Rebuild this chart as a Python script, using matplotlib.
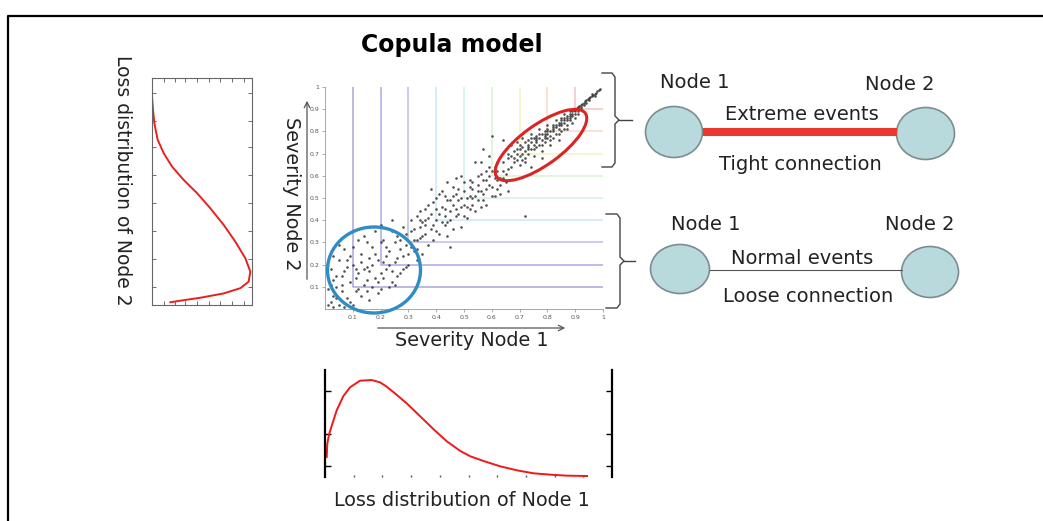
import matplotlib
matplotlib.use('Agg')
import matplotlib.pyplot as plt
from matplotlib.patches import Ellipse

plt.rcParams['font.family'] = ['DejaVu Sans']

# (severity node 1, severity node 2) pairs
copula_points = [
    # lower left, loose cloud
    (0.02, 0.03), (0.03, 0.06), (0.05, 0.02), (0.04, 0.10), (0.06, 0.15), (0.08, 0.05),
    (0.09, 0.12), (0.10, 0.20), (0.11, 0.08), (0.12, 0.16), (0.13, 0.25), (0.14, 0.11),
    (0.15, 0.19), (0.16, 0.04), (0.17, 0.28), (0.18, 0.14), (0.19, 0.22), (0.20, 0.09),
    (0.21, 0.31), (0.22, 0.18), (0.23, 0.26), (0.24, 0.12), (0.25, 0.21), (0.26, 0.33),
    (0.27, 0.16), (0.28, 0.24), (0.29, 0.29), (0.30, 0.20), (0.31, 0.35), (0.32, 0.26),
    (0.02, 0.18), (0.03, 0.13), (0.05, 0.22), (0.07, 0.27), (0.08, 0.19), (0.10, 0.02),
    (0.12, 0.31), (0.13, 0.06), (0.15, 0.13), (0.16, 0.23), (0.18, 0.35), (0.19, 0.07),
    (0.20, 0.16), (0.22, 0.24), (0.23, 0.10), (0.25, 0.30), (0.26, 0.15), (0.28, 0.37),
    (0.29, 0.19), (0.31, 0.28), (0.33, 0.22), (0.34, 0.32), (0.06, 0.08), (0.09, 0.24),
    (0.11, 0.14), (0.14, 0.18), (0.17, 0.10), (0.21, 0.21), (0.24, 0.17), (0.27, 0.27),
    (0.04, 0.05), (0.07, 0.01), (0.01, 0.09), (0.35, 0.25), (0.36, 0.38), (0.37, 0.29),
    (0.24, 0.40), (0.20, 0.38), (0.15, 0.30),
    (0.03, 0.24), (0.05, 0.29), (0.06, 0.11), (0.08, 0.22), (0.09, 0.03), (0.10, 0.28),
    (0.11, 0.18), (0.12, 0.09), (0.13, 0.21), (0.14, 0.33), (0.15, 0.08), (0.16, 0.17),
    (0.17, 0.20), (0.18, 0.25), (0.19, 0.12), (0.20, 0.30), (0.21, 0.14), (0.22, 0.28),
    (0.23, 0.20), (0.24, 0.35), (0.25, 0.11), (0.26, 0.23), (0.27, 0.31), (0.28, 0.18),
    (0.29, 0.34), (0.30, 0.25), (0.32, 0.31), (0.33, 0.27), (0.34, 0.40), (0.07, 0.17),
    (0.04, 0.15), (0.02, 0.11), (0.01, 0.02), (0.03, 0.01),
    # middle band
    (0.33, 0.42), (0.35, 0.33), (0.36, 0.45), (0.38, 0.36), (0.39, 0.48), (0.40, 0.40),
    (0.41, 0.34), (0.42, 0.46), (0.43, 0.51), (0.44, 0.39), (0.45, 0.44), (0.46, 0.55),
    (0.47, 0.42), (0.48, 0.49), (0.49, 0.37), (0.50, 0.53), (0.51, 0.46), (0.52, 0.58),
    (0.53, 0.50), (0.54, 0.44), (0.55, 0.56), (0.56, 0.61), (0.57, 0.52), (0.58, 0.47),
    (0.59, 0.60), (0.60, 0.55), (0.61, 0.64), (0.62, 0.58), (0.63, 0.52), (0.64, 0.62),
    (0.65, 0.57), (0.37, 0.41), (0.40, 0.45), (0.43, 0.38), (0.45, 0.49), (0.47, 0.52),
    (0.48, 0.43), (0.50, 0.47), (0.52, 0.51), (0.53, 0.57), (0.55, 0.49), (0.57, 0.58),
    (0.58, 0.54), (0.60, 0.62), (0.62, 0.66), (0.63, 0.59), (0.34, 0.37), (0.39, 0.31),
    (0.44, 0.33), (0.49, 0.60), (0.54, 0.66), (0.59, 0.69), (0.41, 0.52), (0.46, 0.36),
    (0.51, 0.41), (0.56, 0.46), (0.61, 0.51), (0.66, 0.53), (0.72, 0.42), (0.45, 0.28),
    (0.57, 0.72), (0.44, 0.57), (0.38, 0.54),
    (0.31, 0.40), (0.32, 0.36), (0.33, 0.31), (0.34, 0.44), (0.35, 0.39), (0.36, 0.34),
    (0.37, 0.47), (0.38, 0.43), (0.39, 0.38), (0.40, 0.50), (0.41, 0.43), (0.42, 0.39),
    (0.42, 0.53), (0.43, 0.45), (0.44, 0.49), (0.45, 0.40), (0.46, 0.47), (0.47, 0.45),
    (0.48, 0.54), (0.49, 0.46), (0.50, 0.42), (0.50, 0.57), (0.51, 0.50), (0.52, 0.45),
    (0.53, 0.54), (0.54, 0.51), (0.55, 0.60), (0.56, 0.53), (0.57, 0.49), (0.58, 0.62),
    (0.59, 0.56), (0.60, 0.51), (0.61, 0.59), (0.62, 0.62), (0.63, 0.56), (0.64, 0.66),
    (0.65, 0.61), (0.40, 0.35), (0.43, 0.42), (0.46, 0.51), (0.49, 0.50), (0.52, 0.55),
    (0.55, 0.53), (0.58, 0.58), (0.61, 0.61), (0.64, 0.59), (0.36, 0.40), (0.47, 0.59),
    (0.53, 0.47), (0.59, 0.64), (0.62, 0.54), (0.56, 0.66),
    # upper right, tight band
    (0.66, 0.68), (0.67, 0.64), (0.68, 0.71), (0.69, 0.67), (0.70, 0.74), (0.71, 0.70),
    (0.72, 0.66), (0.73, 0.76), (0.74, 0.72), (0.75, 0.69), (0.76, 0.78), (0.77, 0.74),
    (0.78, 0.71), (0.79, 0.80), (0.80, 0.77), (0.81, 0.74), (0.82, 0.82), (0.83, 0.79),
    (0.84, 0.76), (0.85, 0.84), (0.86, 0.81), (0.87, 0.85), (0.88, 0.87), (0.89, 0.84),
    (0.90, 0.89), (0.91, 0.88), (0.92, 0.91), (0.93, 0.92), (0.67, 0.74), (0.69, 0.72),
    (0.70, 0.65), (0.72, 0.75), (0.73, 0.70), (0.75, 0.77), (0.76, 0.73), (0.78, 0.79),
    (0.79, 0.75), (0.81, 0.80), (0.82, 0.77), (0.84, 0.83), (0.85, 0.80), (0.86, 0.86),
    (0.87, 0.83), (0.88, 0.85), (0.89, 0.88), (0.90, 0.86), (0.91, 0.90), (0.68, 0.66),
    (0.71, 0.77), (0.74, 0.79), (0.77, 0.81), (0.80, 0.83), (0.83, 0.85), (0.86, 0.88),
    (0.65, 0.72), (0.66, 0.63), (0.70, 0.69), (0.73, 0.73), (0.76, 0.76), (0.79, 0.78),
    (0.82, 0.80), (0.85, 0.86), (0.88, 0.89), (0.64, 0.76), (0.60, 0.78), (0.78, 0.68),
    (0.74, 0.64),
    (0.66, 0.70), (0.67, 0.69), (0.68, 0.68), (0.69, 0.70), (0.70, 0.72), (0.71, 0.73),
    (0.72, 0.71), (0.73, 0.74), (0.74, 0.75), (0.75, 0.74), (0.76, 0.75), (0.77, 0.77),
    (0.78, 0.76), (0.79, 0.77), (0.80, 0.80), (0.81, 0.78), (0.82, 0.81), (0.83, 0.82),
    (0.84, 0.81), (0.85, 0.83), (0.86, 0.84), (0.87, 0.87), (0.88, 0.86), (0.89, 0.87),
    (0.90, 0.88), (0.91, 0.89), (0.92, 0.90), (0.69, 0.75), (0.72, 0.68), (0.75, 0.72),
    (0.78, 0.74), (0.81, 0.76), (0.84, 0.79), (0.87, 0.81), (0.71, 0.67), (0.74, 0.77),
    (0.77, 0.79), (0.80, 0.79), (0.83, 0.83), (0.86, 0.85), (0.89, 0.89), (0.90, 0.90),
    (0.91, 0.91), (0.88, 0.88), (0.87, 0.86), (0.85, 0.85), (0.84, 0.84), (0.82, 0.83),
    (0.80, 0.81), (0.79, 0.79), (0.76, 0.77), (0.73, 0.72),
    # tail along the diagonal
    (0.93, 0.93), (0.94, 0.94), (0.945, 0.945), (0.95, 0.95), (0.955, 0.955), (0.96, 0.96),
    (0.965, 0.965), (0.97, 0.97), (0.975, 0.975), (0.98, 0.98), (0.985, 0.985), (0.99, 0.99),
    (0.92, 0.92), (0.94, 0.93), (0.95, 0.94), (0.96, 0.97), (0.97, 0.96), (0.935, 0.935),
    (0.925, 0.925), (0.915, 0.915), (0.905, 0.905), (0.895, 0.895),
]
sev_node1 = [p[0] for p in copula_points]
sev_node2 = [p[1] for p in copula_points]

# contour levels of the copula and their colours
levels = [0.1, 0.2, 0.3, 0.4, 0.5, 0.6, 0.7, 0.8, 0.9]
level_colors = ['#8c8cd0', '#8e8ee0', '#a8a8e2', '#b8def0', '#bfece6',
                '#c8f0c4', '#f0efb0', '#f5cdb8', '#f2b0b0']
tick_labels = ['0.1', '0.2', '0.3', '0.4', '0.5', '0.6', '0.7', '0.8', '0.9', '1']

# marginal of node 1 (severity, density)
node1_sev = [0.006, 0.008, 0.015, 0.026, 0.041, 0.064, 0.087, 0.122, 0.163, 0.192, 0.215,
             0.244, 0.285, 0.331, 0.378, 0.424, 0.471, 0.506, 0.552, 0.610, 0.669, 0.727,
             0.785, 0.843, 0.913]
node1_dens = [0.60, 1.00, 1.30, 1.60, 2.00, 2.42, 2.68, 2.88, 2.90, 2.83, 2.70,
              2.50, 2.20, 1.82, 1.43, 1.07, 0.78, 0.62, 0.48, 0.32, 0.20, 0.11,
              0.07, 0.04, 0.03]

# marginal of node 2 (severity, density), drawn sideways
node2_sev = [0.919, 0.860, 0.801, 0.728, 0.669, 0.610, 0.551, 0.493, 0.426, 0.353,
             0.279, 0.206, 0.147, 0.103, 0.074, 0.051, 0.032, 0.019, 0.012]
node2_dens = [0.00, 0.03, 0.07, 0.17, 0.35, 0.60, 0.95, 1.35, 1.75, 2.15,
              2.50, 2.80, 2.95, 2.90, 2.65, 2.15, 1.45, 0.85, 0.55]

W, H = 1043, 521
fig = plt.figure(figsize=(W / 100, H / 100), dpi=100)


def px_axes(x0, y0, x1, y1):
    return fig.add_axes([x0 / W, 1 - y1 / H, (x1 - x0) / W, (y1 - y0) / H])


# scatter with copula contours
ax = px_axes(325, 87, 603, 309)
for c, col in zip(levels, level_colors):
    ax.plot([c, c, 1], [1, c, c], color=col, lw=1.1, alpha=0.75, zorder=1)
ax.scatter(sev_node1, sev_node2, s=3.5, color='#333333', alpha=0.85, lw=0, zorder=2)
ax.set_xlim(0, 1)
ax.set_ylim(0, 1)
ax.set_xticks(levels + [1])
ax.set_yticks(levels + [1])
ax.set_xticklabels(tick_labels)
ax.set_yticklabels(tick_labels)
ax.tick_params(length=2, width=0.5, labelsize=4.5, labelcolor='#555', color='#888', pad=2)
for s in ['top', 'right']:
    ax.spines[s].set_visible(False)
for s in ['left', 'bottom']:
    ax.spines[s].set_color('#999')
    ax.spines[s].set_linewidth(0.6)

# marginal of node 2
axl = px_axes(152, 78, 252, 305)
axl.plot(node2_dens, node2_sev, color='#e82020', lw=1.4)
axl.set_xlim(0, 3.0)
axl.set_ylim(0, 1)
axl.set_xticks([0.35, 0.7, 1.0, 1.35, 1.7, 2.05, 2.4, 2.75])
axl.set_yticks([0.081, 0.201, 0.324, 0.449, 0.574, 0.696, 0.809, 0.934])
axl.tick_params(direction='in', length=3, width=0.6, color='#555',
                top=True, right=True, labelbottom=False, labelleft=False)
for s in axl.spines.values():
    s.set_color('#666')
    s.set_linewidth(0.8)

# marginal of node 1
axb = px_axes(325, 370, 612, 477)
axb.plot(node1_sev, node1_dens, color='#f01818', lw=1.4)
axb.set_xlim(0, 1)
axb.set_ylim(0, 3.2)
axb.set_xticks(levels)
axb.set_yticks([0.33, 1.30, 2.57])
axb.tick_params(axis='y', direction='in', length=4, width=1, right=True,
                labelleft=False, color='black')
axb.tick_params(axis='x', direction='in', length=1.5, width=1, labelbottom=False,
                color='#555')
for s in ['top', 'bottom']:
    axb.spines[s].set_visible(False)
for s in ['left', 'right']:
    axb.spines[s].set_linewidth(1.6)

# drawing layer in pixel coordinates
cv = fig.add_axes([0, 0, 1, 1], zorder=10)
cv.set_xlim(0, W)
cv.set_ylim(H, 0)
cv.axis('off')
cv.patch.set_alpha(0)

cv.plot([8, 8, W], [H, 16, 16], color='black', lw=1.6)

cv.text(452, 45, 'Copula model', ha='center', va='center', fontsize=17, fontweight='bold')
cv.text(472, 341, 'Severity Node 1', ha='center', va='center', fontsize=13.8, color='#222')
cv.text(291, 194, 'Severity Node 2', ha='center', va='center', fontsize=13.8,
        rotation=-90, color='#222')
cv.text(122, 180, 'Loss distribution of Node 2', ha='center', va='center', fontsize=13.5,
        rotation=-90, color='#222')
cv.text(462, 501, 'Loss distribution of Node 1', ha='center', va='center', fontsize=13.8,
        color='#222')

cv.annotate('', xy=(307, 98), xytext=(307, 282),
            arrowprops=dict(arrowstyle='->', color='#555', lw=0.9))
cv.annotate('', xy=(568, 328), xytext=(375, 328),
            arrowprops=dict(arrowstyle='->', color='#555', lw=0.9))

cv.add_patch(Ellipse((374, 270), 93, 86, fill=False, ec='#2f8cc4', lw=2.4))
cv.add_patch(Ellipse((541, 145), 109, 40, angle=-35.7, fill=False, ec='#dd2424', lw=2.2))

# braces
cv.plot([602, 612, 615, 615, 619, 615, 615, 612, 602],
        [73, 73, 77, 116, 120, 124, 163, 167, 167], color='#444', lw=1)
cv.plot([619, 632], [120, 120], color='#444', lw=1)
cv.plot([606, 617, 620, 620, 624, 620, 620, 617, 606],
        [214, 214, 218, 257, 261, 265, 304, 308, 308], color='#444', lw=1)
cv.plot([624, 635], [261, 261], color='#444', lw=1)

# node diagrams
cv.plot([703, 897], [131.5, 131.5], color='#e8382f', lw=5.8, solid_capstyle='butt')
cv.plot([710, 902], [270, 270], color='#555', lw=0.8)
for cx, cy, w, h in [(674, 132, 57, 51), (925.5, 133.5, 58, 52),
                     (680, 269, 59, 49), (930, 272, 57, 51)]:
    cv.add_patch(Ellipse((cx, cy), w, h, fc='#b9dadd', ec='#7d8c8e', lw=1.2))

label_kw = dict(ha='center', va='center', fontsize=14, color='#222')
cv.text(695, 82, 'Node 1', **label_kw)
cv.text(900, 85, 'Node 2', **label_kw)
cv.text(802, 115, 'Extreme events', **label_kw)
cv.text(800, 165, 'Tight connection', **label_kw)
cv.text(706, 224, 'Node 1', **label_kw)
cv.text(920, 224, 'Node 2', **label_kw)
cv.text(802, 258, 'Normal events', **label_kw)
cv.text(808, 297, 'Loose connection', **label_kw)

fig.savefig('out.png', dpi=100)
